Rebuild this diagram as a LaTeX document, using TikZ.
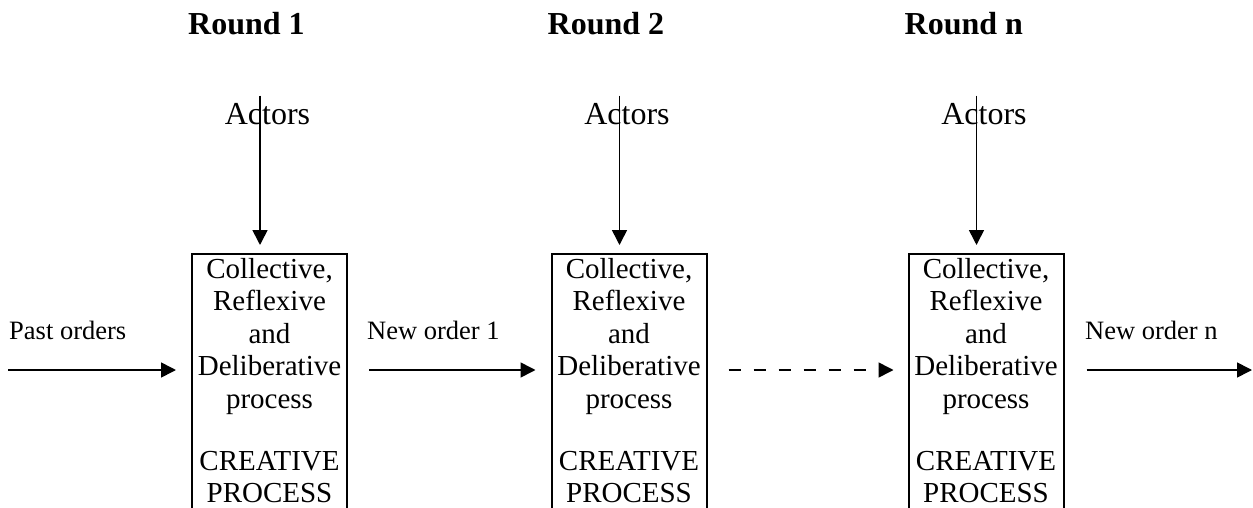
\documentclass[tikz,border=0pt]{standalone}
\usepackage{fontspec}
\setmainfont{Liberation Serif}
\usetikzlibrary{arrows.meta,positioning}

\begin{document}
\begin{tikzpicture}
  [x=1pt,y=-1pt,
   procbox/.style={draw, line width=2pt, minimum width=155pt, minimum height=290pt, anchor=north, inner sep=0pt},
   proctext/.style={align=center, inner sep=0pt, font=\fontsize{29}{32.5}\selectfont},
   roundlbl/.style={anchor=base west, inner sep=0pt, font=\fontsize{32}{36}\selectfont\bfseries},
   actorlbl/.style={anchor=base, inner sep=0pt, font=\fontsize{32}{36}\selectfont},
   orderlbl/.style={anchor=base west, inner sep=0pt, font=\fontsize{26.5}{30}\selectfont},
   flow/.style={line width=1.6pt, -{Triangle[length=15pt,width=15pt]}}]
  \useasboundingbox (0,0) rectangle (1253,508);
  \clip (0,0) rectangle (1253,508);
  \coordinate (mid) at (0,370);

  \foreach \i/\c/\rnd in {1/269.5/1,2/629/2,3/986/n} {
    \node[roundlbl] (r\i) at (\c-81.5,35) {Round \rnd};
    \node[actorlbl] (a\i) at (\c-2,125) {Actors};
    \node[procbox] (p\i) at (\c,253) {};
    \node[proctext, below=5pt of p\i.north] (t\i) {Collective,\\Reflexive\\and\\Deliberative\\process\\[29.5pt]CREATIVE\\PROCESS};
    \draw[flow, shorten >=8pt] ([xshift=-7.5pt,yshift=8pt]a\i.north) -- ([xshift=-9.5pt]p\i.north);
  }

  \coordinate (in) at (8,370);
  \coordinate (out) at (1252,370);
  \node[orderlbl] (past) at (9,339) {Past orders};
  \node[orderlbl] (new1) at (367,339) {New order 1};
  \node[orderlbl] (newn) at (1085,339) {New order n};

  \draw[flow, shorten >=15pt] (in) -- (p1.west |- mid);
  \draw[flow, shorten <=21pt, shorten >=15pt] (p1.east |- mid) -- (p2.west |- mid);
  \draw[flow, dash pattern=on 12pt off 13pt, shorten <=21pt, shorten >=14pt] (p2.east |- mid) -- (p3.west |- mid);
  \draw[flow, shorten <=22pt] (p3.east |- mid) -- (out);
\end{tikzpicture}
\end{document}
